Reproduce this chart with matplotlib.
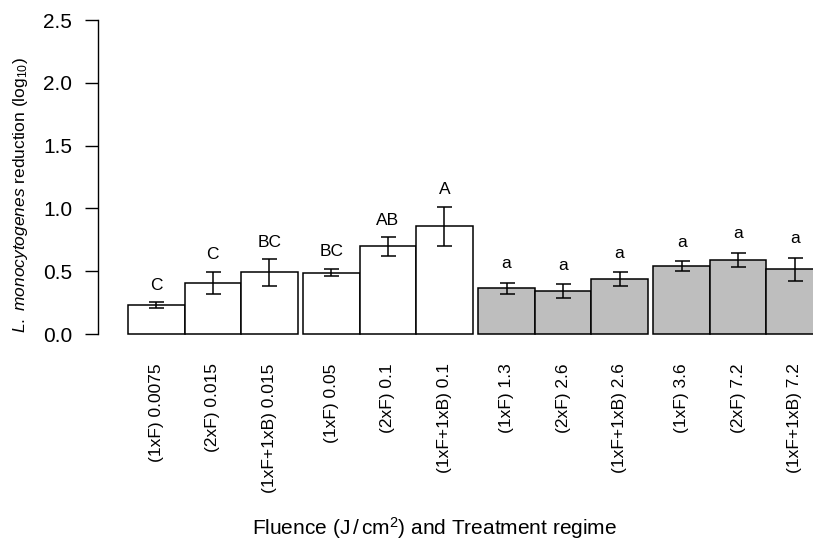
import matplotlib
matplotlib.use("Agg")
import matplotlib.pyplot as plt
import numpy as np

plt.rcParams["font.family"] = ["Liberation Sans", "DejaVu Sans"]
plt.rcParams["mathtext.fontset"] = "custom"
plt.rcParams["mathtext.rm"] = "Liberation Sans"
plt.rcParams["mathtext.it"] = "Liberation Sans:italic"

# treatment labels, log10 reduction means, standard errors and letter groups
labels = [
    "(1xF) 0.0075", "(2xF) 0.015", "(1xF+1xB) 0.015",
    "(1xF) 0.05", "(2xF) 0.1", "(1xF+1xB) 0.1",
    "(1xF) 1.3", "(2xF) 2.6", "(1xF+1xB) 2.6",
    "(1xF) 3.6", "(2xF) 7.2", "(1xF+1xB) 7.2",
]
means = [0.231, 0.408, 0.491, 0.488, 0.698, 0.857,
         0.364, 0.342, 0.440, 0.541, 0.589, 0.515]
errors = [0.023, 0.089, 0.105, 0.030, 0.073, 0.158,
          0.044, 0.056, 0.054, 0.039, 0.057, 0.093]
letters = ["C", "C", "BC", "BC", "AB", "A",
           "a", "a", "a", "a", "a", "a"]
fills = ["white"] * 6 + ["#bebebe"] * 6

W, H = 813, 544
fig = plt.figure(figsize=(W / 100, H / 100), dpi=100)
ax = fig.add_axes([128 / W, (H - 334) / H, (W - 128) / W, (334 - 20) / H])

idx = np.arange(len(means))
lefts = idx + 0.1 * (idx // 3)
centers = lefts + 0.5

bars = ax.bar(centers, means, width=1.0, color=fills, edgecolor="black",
              linewidth=1.1)
for b in bars:
    b.set_clip_on(False)
ax.errorbar(centers, means, yerr=errors, fmt="none", ecolor="black",
            elinewidth=1.1, capsize=5.4, capthick=1.1)

for x, m, e, s in zip(centers, means, errors, letters):
    gap = 0.10 if s.isupper() else 0.115
    ax.text(x, m + e + gap, s, ha="center", va="baseline", fontsize=12.5)

ax.set_xlim(0, (W - 128) / 56.5)
ax.set_ylim(0, 2.5)
ax.set_yticks([0.0, 0.5, 1.0, 1.5, 2.0, 2.5])
ax.set_yticklabels(["0.0", "0.5", "1.0", "1.5", "2.0", "2.5"])
ax.set_xticks(centers)
ax.set_xticklabels(labels, rotation=90, fontsize=12.5)

for side in ("top", "right", "bottom"):
    ax.spines[side].set_visible(False)
ax.spines["left"].set_position(("outward", 21.5))
ax.spines["left"].set_bounds(0, 2.5)
ax.spines["left"].set_linewidth(1.0)
ax.tick_params(axis="y", length=9.4, width=1.0, pad=9.4, labelsize=15)
ax.tick_params(axis="x", length=0, pad=21)

fig.text(21 / W, 1 - 195 / H,
         r"$\it{L.\ monocytogenes}$ reduction (log$_{10}$)",
         rotation=90, ha="center", va="center", fontsize=12.5)
fig.text(434 / W, 1 - 528 / H,
         r"Fluence ($\mathrm{J\,/\,cm^2}$) and Treatment regime",
         ha="center", va="center", fontsize=15)

fig.savefig("out.png", dpi=100)
